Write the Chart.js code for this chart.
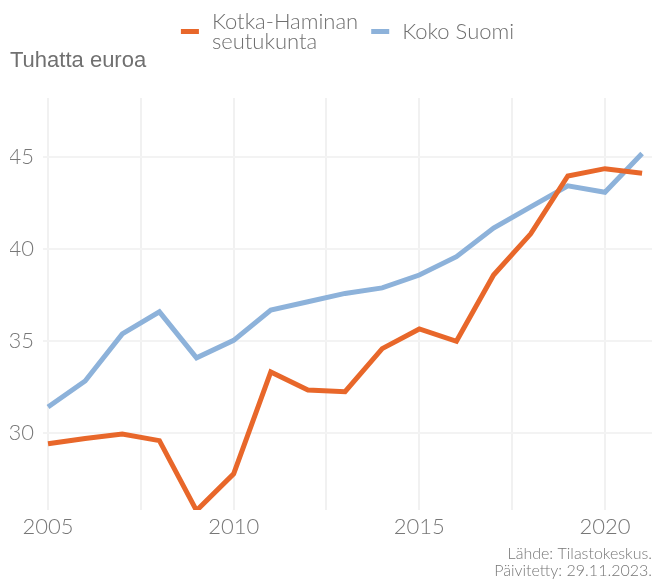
<!DOCTYPE html>
<html>
<head>
<meta charset="utf-8">
<script src="https://cdn.jsdelivr.net/npm/chart.js@4"></script>
<style>
    body { margin: 0; background: #fff; }
    #wrap { width: 652px; height: 583px; }
</style>
</head>
<body>
<div id="wrap"><canvas id="chart" width="652" height="583"></canvas></div>
<script>
// Chart data
const years = [2005, 2006, 2007, 2008, 2009, 2010, 2011, 2012, 2013, 2014, 2015, 2016, 2017, 2018, 2019, 2020, 2021];
const kotkaHamina = [29.43, 29.72, 29.96, 29.6, 25.8, 27.8, 33.33, 32.35, 32.26, 34.6, 35.67, 35.0, 38.6, 40.84, 43.98, 44.38, 44.13];
const kokoSuomi = [31.43, 32.84, 35.4, 36.6, 34.1, 35.05, 36.7, 37.15, 37.6, 37.9, 38.6, 39.6, 41.15, 42.3, 43.45, 43.1, 45.2];
const xTicks = [2005, 2007.5, 2010, 2012.5, 2015, 2017.5, 2020];
const yTicks = [30, 35, 40, 45];
const seriesLabels = [['Kotka-Haminan', 'seutukunta'], ['Koko Suomi']];
const seriesColors = ['#e8672a', '#8db2da'];

const gray = '#777';
const fontFamily = 'Lato';

const toPoints = (vals) => vals.map((v, i) => ({ x: years[i], y: v }));

// Legend drawn by hand so the long label can wrap onto two lines
const wrapLegend = {
    id: 'wrapLegend',
    afterDraw(chart) {
        const ctx = chart.ctx;
        const area = chart.chartArea;
        const boxW = 18, boxH = 5, gap = 13, itemGap = 13, lineH = 20;
        ctx.save();
        ctx.font = '300 22px ' + fontFamily;
        const widths = seriesLabels.map(lines => boxW + gap + Math.max(...lines.map(l => ctx.measureText(l).width)));
        const total = widths.reduce((a, b) => a + b, 0) + itemGap * (widths.length - 1);
        let x = (area.left + area.right) / 2 - total / 2;
        const midY = 31.5;
        chart.data.datasets.forEach((ds, i) => {
            const lines = seriesLabels[i];
            ctx.fillStyle = ds.borderColor;
            ctx.fillRect(x, midY - boxH / 2, boxW, boxH);
            ctx.fillStyle = '#6f6f6f';
            ctx.textBaseline = 'middle';
            const firstY = midY - (lines.length - 1) * lineH / 2;
            lines.forEach((l, j) => ctx.fillText(l, x + boxW + gap, firstY + j * lineH));
            x += widths[i] + itemGap;
        });
        ctx.restore();
    }
};

new Chart(document.getElementById('chart'), {
    type: 'line',
    data: {
        datasets: [{
            label: seriesLabels[0].join(' '),
            data: toPoints(kotkaHamina),
            borderColor: seriesColors[0],
            borderWidth: 5,
            pointRadius: 0,
            tension: 0
        }, {
            label: seriesLabels[1].join(' '),
            data: toPoints(kokoSuomi),
            borderColor: seriesColors[1],
            borderWidth: 5,
            pointRadius: 0,
            tension: 0
        }]
    },
    options: {
        responsive: false,
        animation: false,
        layout: { padding: { left: 10, right: 0, top: 42, bottom: 3 } },
        scales: {
            x: {
                type: 'linear',
                min: 2004.865,
                max: 2021.267,
                afterBuildTicks: (s) => { s.ticks = xTicks.map(v => ({ value: v })); },
                afterFit: (s) => { s.height = 28.8; },
                border: { display: false },
                grid: { color: '#f1f1f1', lineWidth: 2, drawTicks: false },
                ticks: {
                    color: gray,
                    padding: 4,
                    maxRotation: 0,
                    autoSkip: false,
                    font: { family: fontFamily, weight: 300, size: 22 },
                    callback: (v) => (v % 5 === 0 ? String(v) : '')
                }
            },
            y: {
                min: 25.83,
                max: 48.22,
                afterBuildTicks: (s) => { s.ticks = yTicks.map(v => ({ value: v })); },
                afterFit: (s) => { s.width = 33; },
                border: { display: false },
                grid: { color: '#f3f3f3', lineWidth: 2, drawTicks: false },
                ticks: {
                    color: gray,
                    padding: 9,
                    font: { family: fontFamily, weight: 300, size: 22 }
                }
            }
        },
        plugins: {
            legend: { display: false },
            title: {
                display: true,
                text: 'Tuhatta euroa',
                align: 'start',
                color: '#707070',
                padding: { top: 6, bottom: 23.6 },
                font: { family: 'Liberation Sans', size: 22, weight: 'normal', lineHeight: 1.2 }
            },
            subtitle: {
                display: true,
                position: 'bottom',
                align: 'end',
                text: ['Lähde: Tilastokeskus.', 'Päivitetty: 29.11.2023.'],
                color: gray,
                padding: { top: 6, bottom: 0 },
                font: { family: fontFamily, weight: 300, size: 16, lineHeight: 1.1 }
            },
            tooltip: { enabled: false }
        }
    },
    plugins: [wrapLegend]
});
</script>
</body>
</html>
